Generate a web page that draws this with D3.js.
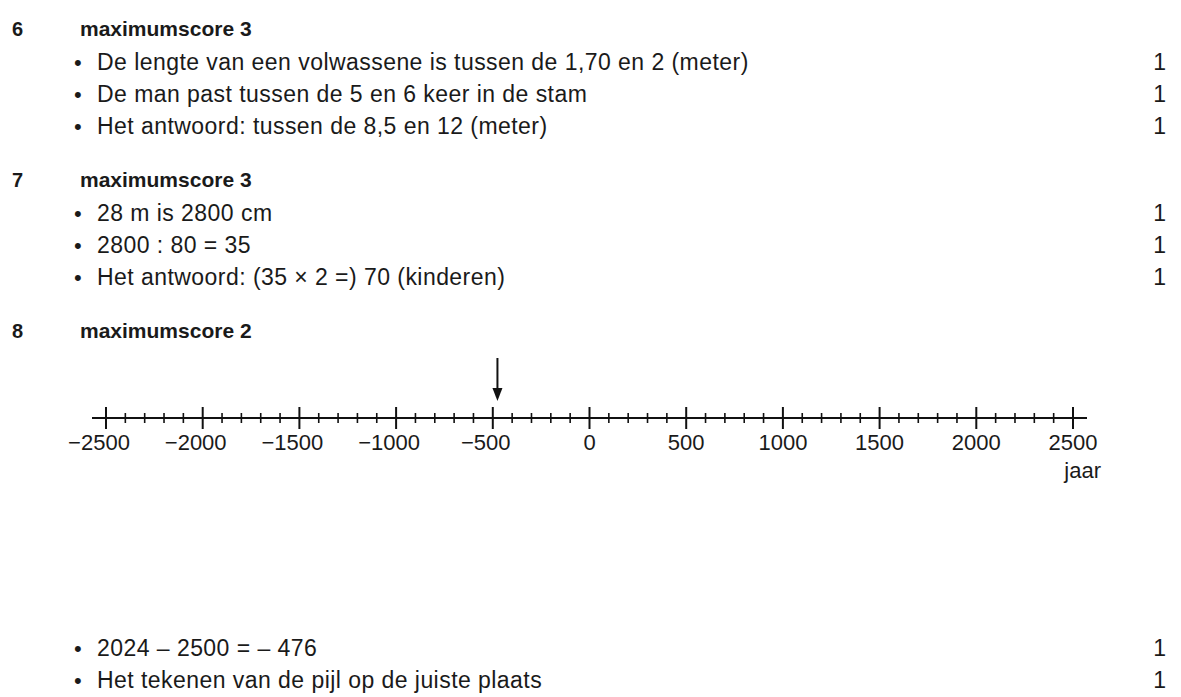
<!DOCTYPE html>
<html>
<head>
<meta charset="utf-8">
<script src="https://cdn.jsdelivr.net/npm/d3@7"></script>
<style>
	body { margin: 0; background: #fff; }
	svg text { font-family: "Liberation Sans", Arial, sans-serif; fill: #1a1a1a; }
</style>
</head>
<body>
<div id="chart"></div>
<script>
// question numbers and headings
const questionNumbers = ["6", "7", "8"];
const maxScores = [3, 3, 2];

// scoring lines per question
const items6 = [
	"De lengte van een volwassene is tussen de 1,70 en 2 (meter)",
	"De man past tussen de 5 en 6 keer in de stam",
	"Het antwoord: tussen de 8,5 en 12 (meter)"
];
const items7 = [
	"28 m is 2800 cm",
	"2800 : 80 = 35",
	"Het antwoord: (35 \u00d7 2 =) 70 (kinderen)"
];
const items8 = [
	"2024 \u2013 2500 = \u2013 476",
	"Het tekenen van de pijl op de juiste plaats"
];
const itemPoints = [1, 1, 1, 1, 1, 1, 1, 1];

// number line
const axisDomain = [-2500, 2500];
const majorTicks = [-2500, -2000, -1500, -1000, -500, 0, 500, 1000, 1500, 2000, 2500];
const minorTicks = d3.range(-2500, 2501, 100);
const arrowValue = -476;
const axisUnit = "jaar";

const width = 1181,
	height = 697;

const svg = d3
	.select("#chart")
	.append("svg")
	.attr("width", width)
	.attr("height", height);

const numX = 12,
	headX = 80,
	bulletX = 74,
	textX = 97,
	scoreX = 1166;

const blocks = [
	{ head: 36, items: items6, y0: 70 },
	{ head: 187, items: items7, y0: 221 },
	{ head: 338, items: items8, y0: 656 }
];

let p = 0;
blocks.forEach((b, i) => {
	svg.append("text")
		.attr("x", numX)
		.attr("y", b.head)
		.attr("font-size", 20)
		.attr("font-weight", "bold")
		.text(questionNumbers[i]);
	svg.append("text")
		.attr("x", headX)
		.attr("y", b.head)
		.attr("font-size", 21)
		.attr("font-weight", "bold")
		.text("maximumscore " + maxScores[i]);

	const g = svg.append("g");
	const row = g
		.selectAll("g")
		.data(b.items)
		.enter()
		.append("g")
		.attr("transform", (d, j) => `translate(0,${b.y0 + j * 32})`);
	row.append("text").attr("x", bulletX).attr("font-size", 22).text("\u2022");
	row.append("text")
		.attr("x", textX)
		.attr("font-size", 23)
		.attr("letter-spacing", 0.45)
		.text((d) => d);
	row.append("text")
		.attr("x", scoreX)
		.attr("font-size", 23)
		.attr("text-anchor", "end")
		.text((d, j) => itemPoints[p + j]);
	p += b.items.length;
});

// number line
const lineY = 418;
const x = d3.scaleLinear().domain(axisDomain).range([106, 1073]);

const nl = svg.append("g").attr("stroke", "#111").attr("fill", "none");
nl.append("line")
	.attr("x1", x(axisDomain[0]) - 14)
	.attr("x2", x(axisDomain[1]) + 14)
	.attr("y1", lineY)
	.attr("y2", lineY)
	.attr("stroke-width", 2);

nl.selectAll(".minor")
	.data(minorTicks.filter((v) => v % 500 !== 0))
	.enter()
	.append("line")
	.attr("class", "minor")
	.attr("x1", (d) => x(d))
	.attr("x2", (d) => x(d))
	.attr("y1", lineY - 5)
	.attr("y2", lineY + 5)
	.attr("stroke-width", 1.6);

nl.selectAll(".major")
	.data(majorTicks)
	.enter()
	.append("line")
	.attr("class", "major")
	.attr("x1", (d) => x(d))
	.attr("x2", (d) => x(d))
	.attr("y1", lineY - 11)
	.attr("y2", lineY + 11)
	.attr("stroke-width", 2);

svg.append("g")
	.selectAll("text")
	.data(majorTicks)
	.enter()
	.append("text")
	.attr("x", (d) => x(d) - (d < 0 ? 7 : 0))
	.attr("y", lineY + 32)
	.attr("font-size", 22)
	.attr("text-anchor", "middle")
	.text((d) => (d < 0 ? "\u2212" + Math.abs(d) : d));

svg.append("text")
	.attr("x", x(axisDomain[1]) + 28)
	.attr("y", lineY + 60)
	.attr("font-size", 22)
	.attr("text-anchor", "end")
	.text(axisUnit);

// arrow
const ax = x(arrowValue);
svg.append("line")
	.attr("x1", ax)
	.attr("x2", ax)
	.attr("y1", 358)
	.attr("y2", 392)
	.attr("stroke", "#111")
	.attr("stroke-width", 2);
svg.append("path")
	.attr("d", `M${ax - 5},388 L${ax + 5},388 L${ax},401 Z`)
	.attr("fill", "#111");
</script>
</body>
</html>
